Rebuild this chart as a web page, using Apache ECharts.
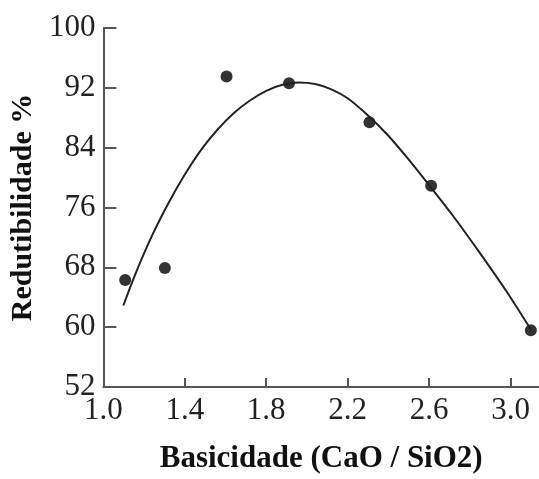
<!DOCTYPE html>
<html>
<head>
<meta charset="utf-8">
<script src="https://cdn.jsdelivr.net/npm/echarts@6/dist/echarts.min.js"></script>
<style>
  html, body { margin: 0; padding: 0; background: #fff; }
  #chart { width: 539px; height: 479px; }
</style>
</head>
<body>
<div id="chart"></div>
<script>
// measured points
var basX = [1.107, 1.302, 1.605, 1.912, 2.307, 2.61, 3.10];
var redY = [66.3, 67.9, 93.5, 92.6, 87.4, 78.9, 59.6];

// fitted curve
var curveX = [1.098, 1.16, 1.24, 1.32, 1.40, 1.48, 1.56, 1.64, 1.72, 1.80, 1.88, 1.96, 2.04, 2.12, 2.20, 2.30, 2.40, 2.50, 2.60, 2.72, 2.85, 2.98, 3.102];
var curveY = [62.9, 67.3, 72.3, 76.6, 80.4, 83.7, 86.4, 88.6, 90.3, 91.6, 92.4, 92.7, 92.5, 91.8, 90.6, 88.3, 85.6, 82.4, 79.0, 74.8, 69.9, 64.8, 59.6];

var xTicks = [1.0, 1.4, 1.8, 2.2, 2.6, 3.0];
var yTicks = [52, 60, 68, 76, 84, 92, 100];

document.addEventListener('DOMContentLoaded', function () {
  var chart = echarts.init(document.getElementById('chart'));

  var pts = basX.map(function (x, i) { return [x, redY[i]]; });
  var curve = curveX.map(function (x, i) { return [x, curveY[i]]; });

  var font = 'Liberation Serif';

  var option = {
    animation: false,
    grid: {
      left: 101,
      right: 0,
      top: 28,
      bottom: 89
    },
    xAxis: {
      type: 'value',
      min: 1.0,
      max: 3.14,
      name: 'Basicidade (CaO / SiO2)',
      nameLocation: 'middle',
      nameGap: 56,
      nameTextStyle: { fontFamily: font, fontWeight: 'bold', fontSize: 31, color: '#111' },
      axisLine: { lineStyle: { color: '#555', width: 2 } },
      axisTick: { length: -9, customValues: xTicks, lineStyle: { color: '#555', width: 2 } },
      axisLabel: {
        customValues: xTicks,
        margin: 8,
        fontFamily: font,
        fontSize: 31,
        color: '#222',
        formatter: function (v) { return v.toFixed(1); }
      },
      splitLine: { show: false }
    },
    yAxis: {
      type: 'value',
      min: 52,
      max: 100,
      name: 'Redutibilidade %',
      nameLocation: 'middle',
      nameRotate: 90,
      nameGap: 58,
      nameTextStyle: { fontFamily: font, fontWeight: 'bold', fontSize: 30, color: '#111' },
      axisLine: { show: true, lineStyle: { color: '#555', width: 2 } },
      axisTick: { show: true, length: -13, customValues: yTicks, lineStyle: { color: '#555', width: 2 } },
      axisLabel: {
        customValues: yTicks,
        margin: 8,
        fontFamily: font,
        fontSize: 31,
        color: '#222'
      },
      splitLine: { show: false }
    },
    series: [
      {
        name: 'ajuste',
        type: 'line',
        data: curve,
        smooth: 0.3,
        symbol: 'none',
        lineStyle: { color: '#222', width: 2 }
      },
      {
        name: 'Redutibilidade',
        type: 'scatter',
        data: pts,
        symbolSize: 12,
        itemStyle: { color: '#000' }
      }
    ]
  };

  chart.setOption(option);
  window.addEventListener('resize', chart.resize);
});
</script>
</body>
</html>
